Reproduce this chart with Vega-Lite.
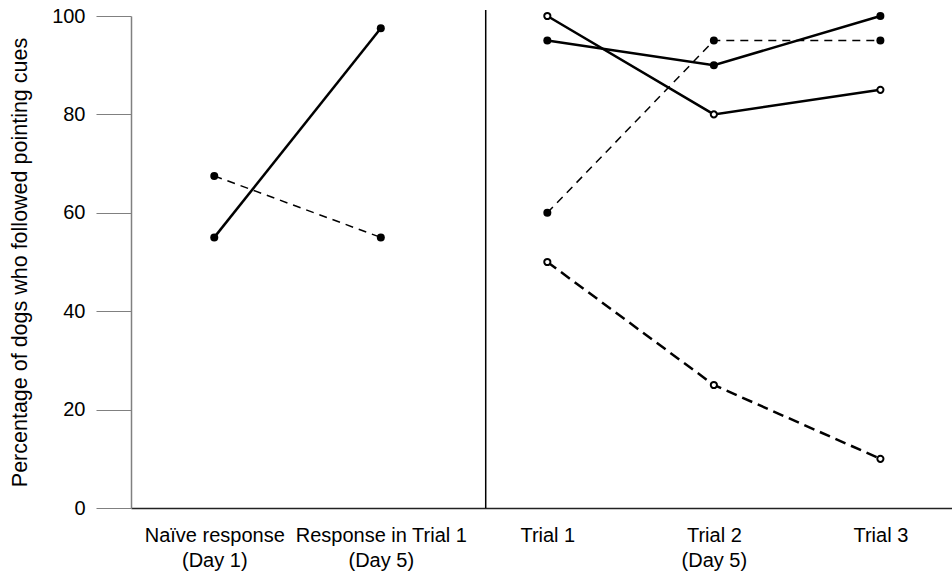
{
  "$schema": "https://vega.github.io/schema/vega-lite/v6.json",
  "width": 821,
  "height": 492,
  "autosize": {"type": "none"},
  "padding": {"left": 131, "top": 16, "right": 0, "bottom": 64},
  "background": "white",
  "config": {
    "font": "Liberation Sans",
    "view": {"stroke": null},
    "axis": {"grid": false, "labelColor": "black", "titleColor": "black", "titleFontWeight": "normal"}
  },
  "datasets": {
    "series": [
      {"pos": 1, "pct": 55, "series": "A"},
      {"pos": 2, "pct": 97.5, "series": "A"},
      {"pos": 1, "pct": 67.5, "series": "B"},
      {"pos": 2, "pct": 55, "series": "B"},
      {"pos": 3, "pct": 95, "series": "C"},
      {"pos": 4, "pct": 90, "series": "C"},
      {"pos": 5, "pct": 100, "series": "C"},
      {"pos": 3, "pct": 100, "series": "D"},
      {"pos": 4, "pct": 80, "series": "D"},
      {"pos": 5, "pct": 85, "series": "D"},
      {"pos": 3, "pct": 60, "series": "E"},
      {"pos": 4, "pct": 95, "series": "E"},
      {"pos": 5, "pct": 95, "series": "E"},
      {"pos": 3, "pct": 50, "series": "F"},
      {"pos": 4, "pct": 25, "series": "F"},
      {"pos": 5, "pct": 10, "series": "F"}
    ],
    "divider": [{"pos": 2.63, "top": 101.2, "bottom": 0}]
  },
  "encoding": {
    "x": {
      "field": "pos", "type": "quantitative",
      "scale": {"domain": [0.5, 5.43], "nice": false, "zero": false},
      "axis": {
        "title": null,
        "values": [1, 2, 3, 4, 5],
        "ticks": false,
        "labelFontSize": 20,
        "labelPadding": 17,
        "labelLineHeight": 25,
        "labelAlign": "center",
        "labelBaseline": "top",
        "domainColor": "#222222",
        "domainWidth": 1.5,
        "labelExpr": "datum.value == 1 ? ['Naïve response', '(Day 1)'] : datum.value == 2 ? ['Response in Trial 1', '(Day 5)'] : datum.value == 3 ? 'Trial 1' : datum.value == 4 ? ['Trial 2', '(Day 5)'] : 'Trial 3'"
      }
    },
    "y": {
      "field": "pct", "type": "quantitative",
      "scale": {"domain": [0, 100], "nice": false},
      "axis": {
        "title": "Percentage of dogs who followed pointing cues",
        "values": [0, 20, 40, 60, 80, 100],
        "tickSize": 35,
        "tickColor": "#808080",
        "tickWidth": 1.2,
        "domainColor": "#808080",
        "domainWidth": 1.5,
        "labelFontSize": 20,
        "labelPadding": 11,
        "titleFontSize": 21.5,
        "titleX": -111,
        "titleY": 246,
        "titleAngle": -90,
        "titleAlign": "center",
        "titleBaseline": "middle"
      }
    }
  },
  "layer": [
    {
      "data": {"name": "divider"},
      "mark": {"type": "rule", "color": "black", "strokeWidth": 1.5},
      "encoding": {
        "y": {"field": "top", "type": "quantitative"},
        "y2": {"field": "bottom"}
      }
    },
    {
      "data": {"name": "series"},
      "transform": [{"filter": "datum.series == 'A' || datum.series == 'C' || datum.series == 'D'"}],
      "mark": {"type": "line", "color": "black", "strokeWidth": 2.5},
      "encoding": {"detail": {"field": "series"}}
    },
    {
      "data": {"name": "series"},
      "transform": [{"filter": "datum.series == 'B' || datum.series == 'E'"}],
      "mark": {"type": "line", "color": "black", "strokeWidth": 1.5, "strokeDash": [8, 6]},
      "encoding": {"detail": {"field": "series"}}
    },
    {
      "data": {"name": "series"},
      "transform": [{"filter": "datum.series == 'F'"}],
      "mark": {"type": "line", "color": "black", "strokeWidth": 2.5, "strokeDash": [11, 6]},
      "encoding": {"detail": {"field": "series"}}
    },
    {
      "data": {"name": "series"},
      "transform": [{"filter": "datum.series != 'D' && datum.series != 'F'"}],
      "mark": {"type": "point", "shape": "circle", "filled": true, "color": "black", "opacity": 1, "size": 64},
      "encoding": {}
    },
    {
      "data": {"name": "series"},
      "transform": [{"filter": "datum.series == 'D' || datum.series == 'F'"}],
      "mark": {"type": "point", "shape": "circle", "filled": false, "fill": "white", "fillOpacity": 1, "stroke": "black", "strokeWidth": 2, "opacity": 1, "size": 38},
      "encoding": {}
    }
  ]
}
